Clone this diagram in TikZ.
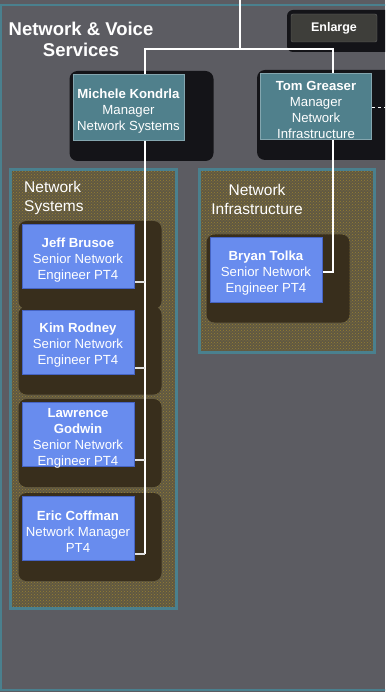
\documentclass[tikz,border=0pt]{standalone}
\usepackage{fontspec}
\setmainfont{Liberation Sans}
\usetikzlibrary{calc,patterns}

\definecolor{bgcol}{RGB}{92,92,98}
\definecolor{framecol}{RGB}{74,128,142}
\definecolor{groupcol}{RGB}{96,88,66}
\definecolor{dotcol}{RGB}{150,128,50}
\definecolor{grpshadow}{RGB}{56,46,28}
\definecolor{mgrshadow}{RGB}{20,20,24}
\definecolor{mgrcol}{RGB}{80,128,140}
\definecolor{empcol}{RGB}{104,140,238}
\definecolor{empedge}{RGB}{70,100,196}
\definecolor{btncol}{RGB}{62,62,58}

\begin{document}
\begin{tikzpicture}[x=1pt,y=-1pt]
\tikzstyle{mgr} = [draw=mgrcol!70!white, line width=1, fill=mgrcol, minimum width=111, minimum height=66, inner sep=0]
\tikzstyle{emp} = [draw=empedge, line width=1, fill=empcol, minimum width=112, minimum height=64, inner sep=0]
\tikzstyle{boxtext} = [text=white, align=center, inner sep=0, yshift=-3.5pt, font=\fontsize{13.2}{16}\selectfont]
\tikzstyle{grp} = [draw=framecol, line width=3, fill=groupcol]
\tikzstyle{grplabel} = [text=white, inner sep=0, font=\fontsize{15.5}{19.5}\selectfont]
\tikzstyle{link} = [draw=white, line width=1.6]
\tikzstyle{sublink} = [draw=white!75!gray, line width=2]

\useasboundingbox (0,0) rectangle (385,692);
\clip (0,0) rectangle (385,692);
\fill [bgcol] (0,0) rectangle (385,692);
\draw [framecol, line width=2] (1,5) rectangle (390,690);

% title and button
\node [text=white, align=center, font=\fontsize{18.5}{21}\selectfont\bfseries] (title) at (81,39) {Network \& Voice\\Services};
\fill [mgrshadow, rounded corners=6] (287,10) rectangle (395,52);
\node [fill=btncol, draw=black!60, rounded corners=2, minimum width=86, minimum height=28, inner sep=0, text=white, font=\fontsize{12.5}{14}\selectfont\bfseries] (enlarge) at (334,28) {Enlarge};

% groups
\draw [grp] (10,170) rectangle (176,608);
\draw [grp] (199,170) rectangle (374,352);
\fill [pattern=crosshatch dots, pattern color=dotcol] (11.5,171.5) rectangle (174.5,606.5);
\fill [pattern=crosshatch dots, pattern color=dotcol] (200.5,171.5) rectangle (372.5,350.5);
\node [grplabel, anchor=north west, align=left] (nslabel) at (24,181) {Network\\Systems};
\node [grplabel, anchor=north, align=center] (nilabel) at (257,184) {Network\\Infrastructure};

% boxes
\node [mgr] (mk) at (128.5,107.5) {};
\node [mgr] (tg) at (316,106.5) {};
\node [emp] (jb) at (78,256.5) {};
\node [emp] (kr) at (78,342) {};
\node [emp] (lg) at (78,434.5) {};
\node [emp] (ec) at (78,528.5) {};
\node [emp] (bt) at (266,270) {};

% shadows behind boxes
\fill [mgrshadow, rounded corners=8] ($(mk.north west)+(-3,-3)$) rectangle ($(mk.south east)+(29,20)$);
\fill [mgrshadow, rounded corners=8] ($(tg.north west)+(-3,-3)$) rectangle ($(tg.south east)+(29,20)$);
\foreach \b in {jb,kr,lg,ec,bt}
  \fill [grpshadow, rounded corners=8] ($(\b.north west)+(-3,-3)$) rectangle ($(\b.south east)+(27,20)$);

% connectors
\coordinate (top) at (240,0);
\coordinate (bus) at (240,49);
\coordinate (nsx) at (145,0);
\coordinate (nix) at (333,0);
\draw [link] (top) -- (bus);
\draw [link] (mk.north -| nsx) |- (bus) -| (tg.north -| nix);
\draw [link] (tg.east) ++(0,1) -- ++(14,0) [dashed];
\draw [link] (mk.south -| nsx) -- ($(ec.south east -| nsx)+(0,-7)$);
\foreach \b in {jb,kr,lg,ec}
  \draw [sublink] ($(\b.south east)+(0,-7)$) -- ($(\b.south east -| nsx)+(0,-7)$);
\draw [link] (tg.south -| nix) |- ($(bt.east)+(0,2)$);

% boxes again, over shadows, with their texts
\foreach \b in {mk,tg} \node [mgr] at (\b) {};
\foreach \b in {jb,kr,lg,ec,bt} \node [emp] at (\b) {};
\node [boxtext] at (mk) {\textbf{Michele Kondrla}\\Manager\\Network Systems};
\node [boxtext] at (tg) {\textbf{Tom Greaser}\\Manager\\Network\\Infrastructure};
\node [boxtext] at (jb) {\textbf{Jeff Brusoe}\\Senior Network\\Engineer PT4};
\node [boxtext] at (kr) {\textbf{Kim Rodney}\\Senior Network\\Engineer PT4};
\node [boxtext] at (lg) {\textbf{Lawrence}\\\textbf{Godwin}\\Senior Network\\Engineer PT4};
\node [boxtext] at (ec) {\textbf{Eric Coffman}\\Network Manager\\PT4};
\node [boxtext] at (bt) {\textbf{Bryan Tolka}\\Senior Network\\Engineer PT4};
\end{tikzpicture}
\end{document}
